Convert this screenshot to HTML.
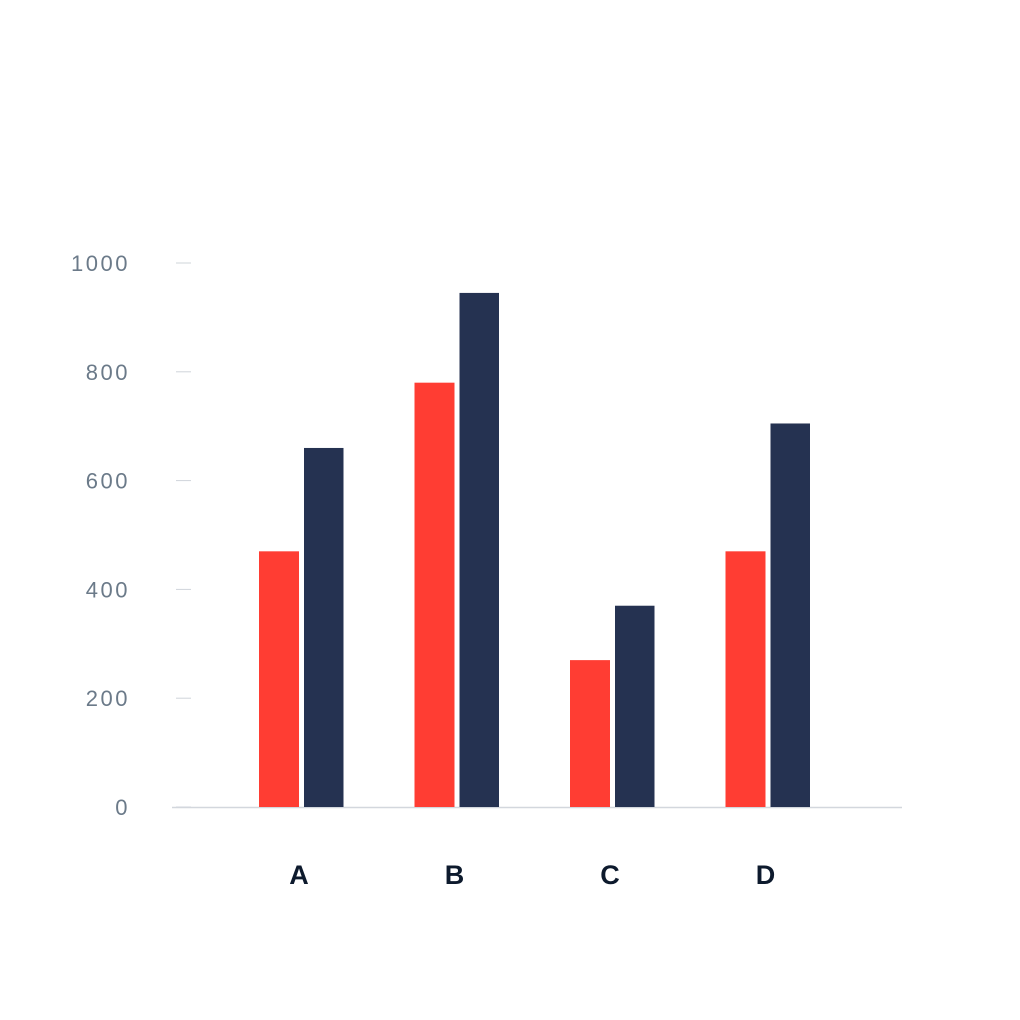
<!DOCTYPE html>
<html><head><meta charset="utf-8"><style>
html,body{margin:0;padding:0;background:#fff;}
svg{display:block;font-family:"Liberation Sans",sans-serif;}
</style></head><body>
<svg id="chart" width="1020" height="1020"></svg>
<script>
const categories=["A","B","C","D"];
const seriesRed=[470,780,270,470];
const seriesNavy=[660,945,370,705];
const yTicks=[0,200,400,600,800,1000];
const NS="http://www.w3.org/2000/svg";
const svg=document.getElementById("chart");
function y(v){return 807-v*0.544;}
function xc(i){return 301+i*155.5;}
function mk(t,a){const e=document.createElementNS(NS,t);for(const k in a)e.setAttribute(k,a[k]);svg.appendChild(e);return e;}
yTicks.forEach(v=>{
  const l=mk("line",{x1:176,x2:191,y1:y(v),y2:y(v),stroke:"#cfd4da","stroke-width":1});
  
  
  const t=mk("text",{x:130,y:y(v)+8,"text-anchor":"end","font-size":22,"letter-spacing":"2.5",fill:"#6b7a89"});
  t.textContent=v;
  
  
});
const ax=mk("line",{x1:172,x2:902,y1:807.5,y2:807.5,stroke:"#d3d7dd","stroke-width":1.5});


categories.forEach((c,i)=>{
  const r=mk("rect",{x:xc(i)-42,y:y(seriesRed[i]),width:40,height:807-y(seriesRed[i]),fill:"#ff3d33"});
  
  
  const n=mk("rect",{x:xc(i)+3,y:y(seriesNavy[i]),width:39.5,height:807-y(seriesNavy[i]),fill:"#253251"});
  
  
  const t=mk("text",{x:xc(i)-2,y:884,"text-anchor":"middle","font-size":27,"font-weight":"bold",fill:"#0d1a2d"});
  t.textContent=c;
  
  
});
</script>
</body></html>
